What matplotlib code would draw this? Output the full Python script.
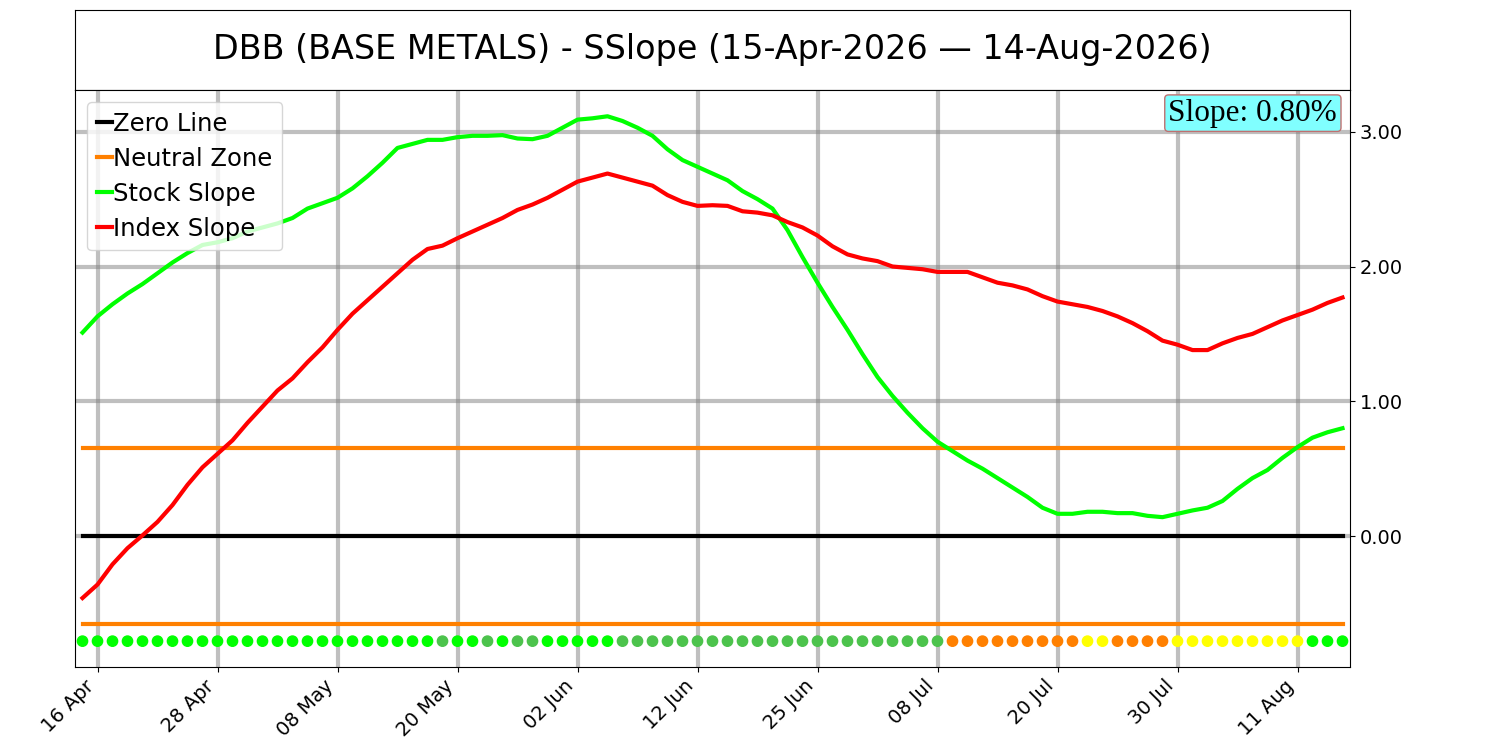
import numpy as np
import pandas as pd
import matplotlib
matplotlib.use("Agg")
import matplotlib.pyplot as plt

# Trading days 15-Apr-2026 .. 14-Aug-2026 (US market holidays removed)
holidays = ["2026-05-25", "2026-06-19", "2026-07-03"]
dates = pd.bdate_range("2026-04-15", "2026-08-14")
dates = dates[~dates.isin(pd.to_datetime(holidays))]

stock_slope = [
    1.51, 1.63, 1.72, 1.80, 1.87, 1.95, 2.03, 2.10, 2.16, 2.18,
    2.21, 2.26, 2.29, 2.32, 2.36, 2.43, 2.47, 2.51, 2.58, 2.67,
    2.77, 2.88, 2.91, 2.94, 2.94, 2.96, 2.97, 2.97, 2.975, 2.95,
    2.945, 2.97, 3.03, 3.09, 3.10, 3.115, 3.08, 3.03, 2.97, 2.87,
    2.79, 2.74, 2.69, 2.64, 2.56, 2.50, 2.43, 2.27, 2.07, 1.88,
    1.70, 1.53, 1.35, 1.18, 1.04, 0.915, 0.80, 0.70, 0.63, 0.56,
    0.50, 0.43, 0.36, 0.29, 0.21, 0.165, 0.165, 0.18, 0.18, 0.17,
    0.17, 0.15, 0.14, 0.165, 0.19, 0.21, 0.26, 0.35, 0.43, 0.49,
    0.58, 0.66, 0.73, 0.77, 0.80,
]

index_slope = [
    -0.46, -0.36, -0.21, -0.09, 0.005, 0.105, 0.23, 0.38, 0.51, 0.61,
    0.71, 0.84, 0.96, 1.08, 1.17, 1.29, 1.40, 1.53, 1.65, 1.75,
    1.85, 1.95, 2.05, 2.13, 2.155, 2.21, 2.26, 2.31, 2.36, 2.42,
    2.46, 2.51, 2.57, 2.63, 2.66, 2.69, 2.66, 2.63, 2.60, 2.53,
    2.48, 2.45, 2.455, 2.45, 2.41, 2.40, 2.38, 2.33, 2.29, 2.23,
    2.15, 2.09, 2.06, 2.04, 2.00, 1.99, 1.98, 1.96, 1.96, 1.96,
    1.92, 1.88, 1.86, 1.83, 1.78, 1.74, 1.72, 1.70, 1.67, 1.63,
    1.58, 1.52, 1.45, 1.42, 1.38, 1.38, 1.43, 1.47, 1.50, 1.55,
    1.60, 1.64, 1.68, 1.73, 1.77,
]

# signal state per day: G = strong up, g = up, o = neutral/down, y = caution
signal_codes = (
    "G" * 24 + "g" + "GG" + "g" + "G" + "gg" + "G" * 5 + "g" * 22
    + "o" * 9 + "yy" + "o" * 4 + "y" * 9 + "GGG"
)

neutral_zone = 0.65
dot_level = -0.78
slope_label = "Slope: 0.80%"
title_text = "DBB (BASE METALS) - SSlope (15-Apr-2026 \u2014 14-Aug-2026)"

signal_colors = {"G": "#00ff00", "g": "#4cc34c", "o": "#ff8000", "y": "#ffff00"}

x = np.arange(len(dates))

fig = plt.figure(figsize=(15, 7.5), dpi=100)

# title panel
ax_t = fig.add_axes([0.05, 0.88, 0.85, 0.1067])
ax_t.set_xticks([])
ax_t.set_yticks([])
ax_t.text(0.5, 0.5, title_text, ha="center", va="center", fontsize=24,
          transform=ax_t.transAxes)

ax = fig.add_axes([0.05, 0.111, 0.85, 0.769])

ax.plot(x, np.zeros(len(x)), color="black", lw=3, label="Zero Line")
ax.plot(x, np.full(len(x), neutral_zone), color="#ff8000", lw=3, label="Neutral Zone")
ax.plot(x, np.full(len(x), -neutral_zone), color="#ff8000", lw=3)
ax.plot(x, stock_slope, color="#00ff00", lw=3, label="Stock Slope")
ax.plot(x, index_slope, color="#ff0000", lw=3, label="Index Slope")

dot_cols = [signal_colors[c] for c in signal_codes]
ax.scatter(x, np.full(len(x), dot_level), c=dot_cols, s=55, zorder=3)

tick_idx = list(range(1, len(x), 8))
ax.set_xticks(tick_idx)
ax.set_xticklabels([dates[i].strftime("%d %b") for i in tick_idx],
                   rotation=45, ha="right", fontsize=14)
ax.set_xlim(-0.5, len(x) - 0.5)
ax.set_ylim(-0.97, 3.31)

ax.yaxis.tick_right()
ax.set_yticks([0, 1, 2, 3])
ax.set_yticklabels([f"{v:.2f}" for v in [0, 1, 2, 3]], fontsize=14)
ax.grid(True, color="gray", lw=3, alpha=0.5)
ax.set_axisbelow(True)

ax.legend(loc="upper left", fontsize=17.5, handlelength=0.63, handletextpad=0.05,
          labelspacing=0.45, borderaxespad=0.5)

ax.text(0.99, 0.985, slope_label, transform=ax.transAxes, ha="right", va="top",
        fontsize=22.5, family="Liberation Serif",
        bbox=dict(boxstyle="round,pad=0.12", facecolor="#80ffff",
                  edgecolor="#c07070", alpha=1.0))

fig.savefig("out.png", dpi=100)
